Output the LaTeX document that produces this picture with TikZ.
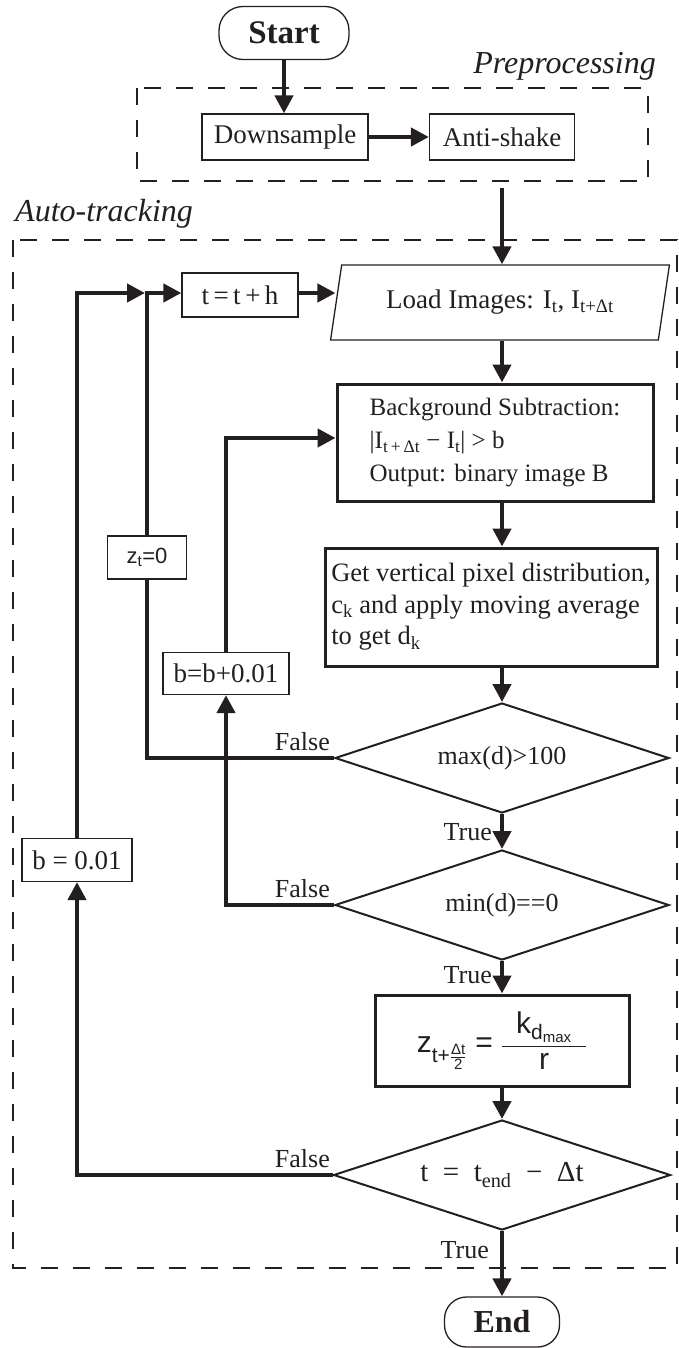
\documentclass[tikz,border=0pt]{standalone}
\usepackage{amsmath}
\usepackage{fontspec}
\newfontfamily\tnr{Liberation Serif}
\newfontfamily\arial{Liberation Sans}
\usetikzlibrary{arrows.meta,shapes.geometric,calc}
\definecolor{ink}{HTML}{231F20}
\begin{document}
\begin{tikzpicture}[x=1pt,y=-1pt,
  every node/.style={text=ink},
  conn/.style={line width=4.3pt, draw=ink},
  arr/.style={conn,-{Triangle[length=18pt,width=18pt]}},
  dashbox/.style={draw=ink, line width=1.3pt, dash pattern=on 17pt off 15pt},
  termbox/.style={draw=ink, line width=1.3pt, rounded corners=24pt, inner sep=0pt,
    font=\tnr\bfseries\fontsize{33}{36}\selectfont},
  thinbox/.style={draw=ink, line width=1.3pt, inner sep=0pt,
    font=\tnr\fontsize{27}{32}\selectfont},
  thickbox/.style={draw=ink, line width=3pt, inner sep=0pt},
  decision/.style={diamond, draw=ink, line width=2pt, inner sep=0pt, aspect=3,
    font=\tnr\fontsize{26}{30}\selectfont},
  lbl/.style={font=\tnr\fontsize{26}{30}\selectfont, inner sep=0pt},
  grouplbl/.style={font=\tnr\itshape\fontsize{32}{36}\selectfont, inner sep=0pt}
]
\useasboundingbox (0,0) rectangle (678,1348);

% group frames
\draw[dashbox] (137,88) rectangle (648,181);
\draw[dashbox] (13,240) rectangle (677,1268);
\node[grouplbl, anchor=base east] (prelbl) at (656,74) {Preprocessing};
\node[grouplbl, anchor=base west] (autolbl) at (15,222) {Auto-tracking};

% nodes
\node[termbox, minimum width=130pt, minimum height=53pt] (start) at (284,33) {Start};
\node[thinbox, minimum width=166pt, minimum height=46pt] (down) at (285,137) {Downsample};
\node[thinbox, minimum width=145pt, minimum height=46pt] (anti) at (502,137) {Anti-shake};

\node[trapezium, trapezium left angle=72, trapezium right angle=108, trapezium stretches=true,
  draw=ink, line width=1.3pt, minimum width=340pt, minimum height=75pt, inner sep=0pt,
  font=\tnr\fontsize{27}{32}\selectfont] (load) at (500,302.5)
  {Load Images: I\textsubscript{t}, I\textsubscript{t+Δt}};
\node[thinbox, minimum width=116pt, minimum height=44pt] (tt) at (240,295) {t\,=\,t\,+\,h};

\node[thickbox, minimum width=316pt, minimum height=117pt, align=left,
  font=\tnr\fontsize{25}{33}\selectfont] (bg) at (495,442.5)
  {Background Subtraction:\\
   |I\textsubscript{t\,+\,Δt} − I\textsubscript{t}| > b\\
   Output: binary image B};

\node[thickbox, minimum width=332pt, minimum height=118pt, align=left,
  font=\tnr\fontsize{26.5}{31.5}\selectfont] (get) at (491,607)
  {Get vertical pixel distribution,\\
   c\textsubscript{k} and apply moving average\\
   to get d\textsubscript{k}};

\node[decision, minimum width=334pt, minimum height=110pt] (d1) at (502,758) {max(d)>100};
\node[decision, minimum width=334pt, minimum height=110pt] (d2) at (502,905) {min(d)==0};

\node[thickbox, minimum width=254pt, minimum height=91pt,
  font=\arial\fontsize{30}{34}\selectfont] (zf) at (502,1040.5)
  {z$_{\text{\arial t+}\frac{\text{\arial Δt}}{\text{\arial 2}}}$\ =\
   $\dfrac{\;\;\text{\arial k}_{\text{\arial d}_{\text{\arial max}}}\;\;}{\text{\arial r}}$};

\node[decision, minimum width=337pt, minimum height=110pt,
  font=\tnr\fontsize{29}{32}\selectfont] (d3) at (502,1175)
  {t\enspace=\enspace t\textsubscript{end}\enspace−\enspace Δt};

\node[termbox, minimum width=115pt, minimum height=50pt, rounded corners=22pt,
  font=\tnr\bfseries\fontsize{32}{36}\selectfont] (end) at (502,1322) {End};

\node[thinbox, minimum width=79pt, minimum height=43pt,
  font=\arial\fontsize{22}{26}\selectfont] (zt) at (147,557.5) {z\textsubscript{t}=0};
\node[thinbox, minimum width=126pt, minimum height=42pt] (bb) at (226,673.5) {b=b+0.01};
\node[thinbox, minimum width=110pt, minimum height=43pt] (b1) at (77,860) {b = 0.01};

% labels
\node[lbl, anchor=base east] (f1) at (330,750) {False};
\node[lbl, anchor=base east] (f2) at (330,897) {False};
\node[lbl, anchor=base east] (f3) at (330,1167) {False};
\node[lbl, anchor=base east] (t1) at (492,840) {True};
\node[lbl, anchor=base east] (t2) at (492,983) {True};
\node[lbl, anchor=base east] (t3) at (489,1258) {True};

% connectors
\coordinate (cx) at (502,0);
\coordinate (preout) at (502,188);
\coordinate (join) at (145,293);
\draw[arr] (start.south) -- (start.south |- down.north);
\draw[arr] (down) -- (anti);
\draw[arr] (preout) -- (preout |- load.north);
\draw[arr] (tt.east |- 0,293) -- (tt.east |- 0,293 -| load.west);
\draw[arr] (load.south -| cx) -- (bg.north -| cx);
\draw[arr] (bg.south -| cx) -- (get.north -| cx);
\draw[arr] (get.south -| cx) -- (d1.north);
\draw[arr] (d1.south) -- (d2.north);
\draw[arr] (d2.south) -- (zf.north);
\draw[arr] (zf.south) -- (d3.north);
\draw[arr] (d3.south) -- (end.north);

\draw[conn] (d1.west) -| (zt.south);
\draw[arr] (zt.north) |- (tt.west |- 0,293);
\draw[arr] (d2.west) -| (bb.south);
\draw[arr] (bb.north) |- (bg.west |- 0,438);
\draw[arr] (d3.west) -| (b1.south);
\draw[arr] (b1.north) |- (join);
\end{tikzpicture}
\end{document}
